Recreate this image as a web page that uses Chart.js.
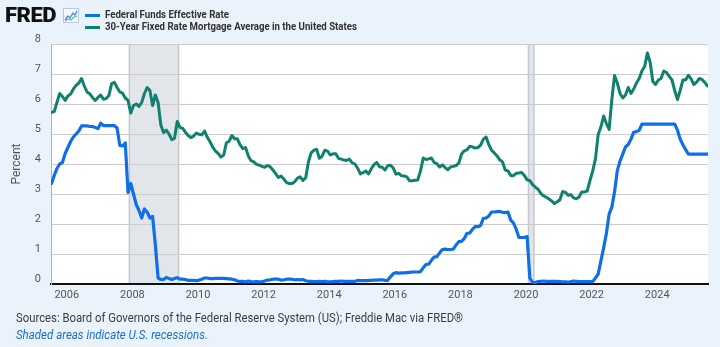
<!DOCTYPE html>
<html lang="en">
<head>
<meta charset="utf-8">
<title>Federal Funds Effective Rate and 30-Year Fixed Rate Mortgage Average</title>
<script src="https://cdn.jsdelivr.net/npm/chart.js"></script>
<style>
  html, body { margin: 0; padding: 0; }
  body {
    width: 720px; height: 347px; overflow: hidden; position: relative;
    background: #eaf2fb;
    font-family: Roboto, "Noto Sans", "Liberation Sans", sans-serif;
  }
  #chart { position: absolute; left: 0; top: 0; }
  .brand {
    position: absolute; left: 5px; top: 3px; font-size: 21px; font-weight: 900;
    color: #111; letter-spacing: -0.5px; line-height: 24px; transform-origin: left center;
  }
  .brand-icon { position: absolute; left: 63px; top: 8px; }
  .key { position: absolute; left: 85px; height: 12px; display: flex; align-items: center; white-space: nowrap; }
  .key .swatch { width: 15px; height: 3px; margin-right: 5px; flex: none; }
  .key .name {
    font-size: 11px; font-weight: 700; color: #333; display: inline-block;
    transform-origin: left center; line-height: 12px;
  }
  .note { position: absolute; left: 16px; font-size: 12px; line-height: 14px; white-space: nowrap; transform-origin: left center; }
  .note.src { top: 311px; color: #3d3d3d; }
  .note.rec { top: 328px; color: #1a6fcf; font-style: italic; }
</style>
</head>
<body>
<canvas id="chart" width="720" height="347"></canvas>

<div class="brand" data-width="51">FRED</div>
<svg class="brand-icon" width="16" height="15" viewBox="0 0 16 15">
  <rect x="0.5" y="0.5" width="15" height="14" fill="#f4f8fc" stroke="#b9c9dc"/>
  <polyline points="2,12 5,8 7,10 10,5 12,7 14,3" fill="none" stroke="#3d8fe0" stroke-width="1.3"/>
  <polyline points="2,13 5,11 8,12 11,9 14,8" fill="none" stroke="#5fb7a7" stroke-width="1.1"/>
</svg>
<div class="key" style="top:9px"><span class="swatch" id="swatch0"></span><span class="name" data-width="124">Federal Funds Effective Rate</span></div>
<div class="key" style="top:21px"><span class="swatch" id="swatch1"></span><span class="name" data-width="252">30-Year Fixed Rate Mortgage Average in the United States</span></div>

<div class="note src" data-width="447">Sources: Board of Governors of the Federal Reserve System (US); Freddie Mac via FRED®</div>
<div class="note rec" data-width="192">Shaded areas indicate U.S. recessions.</div>

<script>
// Monthly observations, August 2005 through August 2025 (percent).
const firstYear = 2005;
const firstMonth = 8;   // August

const fedFundsRate = [
  3.35, 3.62, 3.85, 4.00, 4.05,                                        // 2005
  4.35, 4.55, 4.75, 4.90, 5.00, 5.10, 5.27, 5.27, 5.27, 5.25, 5.25, 5.22, // 2006
  5.18, 5.36, 5.28, 5.28, 5.28, 5.28, 5.28, 5.20, 4.62, 4.60, 4.70, 3.05, // 2007
  3.35, 3.00, 2.65, 2.45, 2.20, 2.50, 2.40, 2.20, 2.25, 1.30, 0.20, 0.15, // 2008
  0.15, 0.22, 0.18, 0.15, 0.18, 0.21, 0.16, 0.16, 0.15, 0.12, 0.12, 0.12, // 2009
  0.11, 0.13, 0.16, 0.20, 0.20, 0.18, 0.18, 0.19, 0.19, 0.19, 0.19, 0.18, // 2010
  0.17, 0.16, 0.14, 0.10, 0.09, 0.09, 0.07, 0.10, 0.08, 0.07, 0.08, 0.07, // 2011
  0.08, 0.10, 0.13, 0.14, 0.16, 0.16, 0.16, 0.13, 0.14, 0.16, 0.16, 0.16, // 2012
  0.14, 0.15, 0.14, 0.15, 0.11, 0.09, 0.09, 0.08, 0.08, 0.09, 0.08, 0.09, // 2013
  0.07, 0.07, 0.08, 0.09, 0.09, 0.10, 0.09, 0.09, 0.09, 0.09, 0.09, 0.12, // 2014
  0.11, 0.11, 0.11, 0.12, 0.12, 0.13, 0.13, 0.14, 0.14, 0.12, 0.12, 0.24, // 2015
  0.34, 0.38, 0.36, 0.37, 0.37, 0.38, 0.39, 0.40, 0.40, 0.40, 0.41, 0.54, // 2016
  0.65, 0.66, 0.79, 0.90, 0.91, 1.04, 1.15, 1.16, 1.15, 1.15, 1.16, 1.30, // 2017
  1.41, 1.42, 1.51, 1.69, 1.70, 1.82, 1.91, 1.91, 1.95, 2.19, 2.20, 2.27, // 2018
  2.40, 2.40, 2.41, 2.42, 2.39, 2.38, 2.40, 2.13, 2.04, 1.83, 1.55, 1.55, // 2019
  1.55, 1.58, 0.20, 0.05, 0.05, 0.08, 0.09, 0.10, 0.09, 0.09, 0.09, 0.09, // 2020
  0.09, 0.08, 0.07, 0.07, 0.06, 0.08, 0.10, 0.09, 0.08, 0.08, 0.08, 0.08, // 2021
  0.08, 0.08, 0.20, 0.33, 0.77, 1.21, 1.68, 2.33, 2.56, 3.08, 3.78, 4.10, // 2022
  4.33, 4.57, 4.65, 4.83, 5.06, 5.08, 5.12, 5.33, 5.33, 5.33, 5.33, 5.33, // 2023
  5.33, 5.33, 5.33, 5.33, 5.33, 5.33, 5.33, 5.33, 5.13, 4.83, 4.64, 4.48, // 2024
  4.33, 4.33, 4.33, 4.33, 4.33, 4.33, 4.33, 4.33                          // 2025
];

const mortgageRate = [
  5.72, 5.75, 6.05, 6.35, 6.25,                                        // 2005
  6.12, 6.27, 6.33, 6.50, 6.62, 6.70, 6.85, 6.60, 6.40, 6.34, 6.22, 6.12, // 2006
  6.22, 6.30, 6.16, 6.18, 6.28, 6.68, 6.72, 6.55, 6.40, 6.36, 6.20, 6.12, // 2007
  5.70, 5.95, 6.00, 5.92, 6.05, 6.35, 6.55, 6.45, 5.95, 6.30, 6.05, 5.30, // 2008
  5.05, 5.13, 5.00, 4.81, 4.86, 5.42, 5.22, 5.19, 5.06, 4.95, 4.88, 4.93, // 2009
  5.03, 4.99, 4.97, 5.10, 4.89, 4.74, 4.56, 4.43, 4.35, 4.23, 4.30, 4.71, // 2010
  4.76, 4.95, 4.84, 4.84, 4.64, 4.51, 4.55, 4.27, 4.11, 4.07, 3.99, 3.96, // 2011
  3.92, 3.89, 3.95, 3.91, 3.80, 3.68, 3.55, 3.60, 3.50, 3.38, 3.35, 3.35, // 2012
  3.41, 3.53, 3.57, 3.45, 3.54, 4.07, 4.37, 4.46, 4.49, 4.19, 4.26, 4.46, // 2013
  4.43, 4.30, 4.34, 4.34, 4.19, 4.16, 4.13, 4.12, 4.16, 4.04, 4.00, 3.86, // 2014
  3.67, 3.71, 3.77, 3.67, 3.84, 3.98, 4.05, 3.91, 3.89, 3.80, 3.94, 3.96, // 2015
  3.87, 3.66, 3.69, 3.61, 3.60, 3.57, 3.44, 3.44, 3.46, 3.47, 3.77, 4.20, // 2016
  4.15, 4.17, 4.20, 4.05, 4.01, 3.90, 3.97, 3.88, 3.81, 3.90, 3.92, 3.95, // 2017
  4.03, 4.33, 4.44, 4.47, 4.59, 4.57, 4.53, 4.55, 4.63, 4.83, 4.90, 4.64, // 2018
  4.46, 4.37, 4.27, 4.14, 4.07, 3.80, 3.77, 3.62, 3.61, 3.69, 3.70, 3.72, // 2019
  3.62, 3.47, 3.45, 3.31, 3.23, 3.16, 3.02, 2.94, 2.89, 2.83, 2.77, 2.68, // 2020
  2.74, 2.81, 3.08, 3.06, 2.96, 2.98, 2.87, 2.84, 2.90, 3.07, 3.07, 3.10, // 2021
  3.45, 3.76, 4.17, 4.98, 5.23, 5.60, 5.35, 5.15, 6.15, 6.95, 6.70, 6.35, // 2022
  6.20, 6.30, 6.55, 6.35, 6.50, 6.70, 6.85, 7.10, 7.25, 7.70, 7.40, 6.75, // 2023
  6.65, 6.80, 6.85, 7.10, 7.05, 6.92, 6.80, 6.45, 6.15, 6.45, 6.80, 6.80, // 2024
  6.96, 6.84, 6.65, 6.73, 6.85, 6.82, 6.72, 6.60                          // 2025
];

// NBER recessions (decimal years): start and end of each shaded band.
const recessionStart = [2008.0, 2020 + 2 / 12];
const recessionEnd   = [2009.5, 2020 + 4 / 12];

const yearTicks = [2006, 2008, 2010, 2012, 2014, 2016, 2018, 2020, 2022, 2024];
const percentTicks = [0, 1, 2, 3, 4, 5, 6, 7, 8];

const seriesNames = ['Federal Funds Effective Rate', '30-Year Fixed Rate Mortgage Average in the United States'];
const seriesColors = ['#0f6fe6', '#10806f'];

// Each monthly value sits at the middle of its month.
const monthPositions = fedFundsRate.map((_, i) => firstYear + (firstMonth - 1 + i + 0.5) / 12);
const toPoints = values => values.map((v, i) => ({ x: monthPositions[i], y: v }));

document.getElementById('swatch0').style.background = seriesColors[0];
document.getElementById('swatch1').style.background = seriesColors[1];

// White plotting area plus the recession bands, painted under the grid.
const plotBackdrop = {
  id: 'plotBackdrop',
  beforeDraw(chart) {
    const { ctx, chartArea: a, scales: { x } } = chart;
    ctx.save();
    ctx.fillStyle = '#ffffff';
    ctx.fillRect(a.left, a.top, a.right - a.left, a.bottom - a.top);
    recessionStart.forEach((start, i) => {
      const x0 = x.getPixelForValue(start);
      const x1 = x.getPixelForValue(recessionEnd[i]);
      ctx.fillStyle = '#e2e6eb';
      ctx.fillRect(x0, a.top, x1 - x0, a.bottom - a.top);
      ctx.strokeStyle = '#c3c8ce';
      ctx.lineWidth = 1.5;
      ctx.beginPath();
      ctx.moveTo(x0, a.top); ctx.lineTo(x0, a.bottom);
      ctx.moveTo(x1, a.top); ctx.lineTo(x1, a.bottom);
      ctx.stroke();
    });
    ctx.restore();
  }
};

const tickFont = { family: 'Roboto, "Noto Sans", sans-serif', size: 11 };

new Chart(document.getElementById('chart'), {
  type: 'line',
  data: {
    datasets: [
      { label: seriesNames[0], data: toPoints(fedFundsRate), borderColor: seriesColors[0], borderWidth: 3.2 },
      { label: seriesNames[1], data: toPoints(mortgageRate), borderColor: seriesColors[1], borderWidth: 3 }
    ]
  },
  options: {
    responsive: false,
    animation: false,
    events: [],
    layout: { padding: { left: 0, top: 44, right: 12, bottom: 39 } },
    elements: { point: { radius: 0 }, line: { tension: 0, borderJoinStyle: 'round', borderCapStyle: 'round' } },
    plugins: { legend: { display: false }, tooltip: { enabled: false } },
    scales: {
      x: {
        type: 'linear',
        min: 2005.61,
        max: 2025.64,
        afterBuildTicks: scale => { scale.ticks = yearTicks.map(v => ({ value: v })); },
        afterFit: scale => { scale.height = 24; },
        grid: { display: false, drawTicks: false },
        border: { color: '#111', width: 2 },
        ticks: {
          autoSkip: false, maxRotation: 0, padding: 5, labelOffset: 3,
          color: '#555', font: tickFont,
          callback: v => String(v)
        }
      },
      y: {
        min: 0,
        max: 8,
        afterBuildTicks: scale => { scale.ticks = percentTicks.map(v => ({ value: v })); },
        afterFit: scale => { scale.width = 51; },
        grid: { color: '#cccccc', lineWidth: 1, drawTicks: false },
        border: { color: '#b5b5b5', width: 1 },
        ticks: { padding: 10, labelOffset: -5, color: '#555', font: tickFont },
        title: {
          display: true, text: 'Percent', color: '#555',
          font: { family: 'Roboto, "Noto Sans", sans-serif', size: 12 },
          padding: { top: 10, bottom: 0 }
        }
      }
    }
  },
  plugins: [plotBackdrop]
});

// Squeeze the HTML captions to their set widths.
document.querySelectorAll('[data-width]').forEach(el => {
  const natural = el.getBoundingClientRect().width;
  const target = parseFloat(el.dataset.width);
  if (natural > 0) el.style.transform = 'scaleX(' + (target / natural).toFixed(3) + ')';
});
</script>
</body>
</html>
